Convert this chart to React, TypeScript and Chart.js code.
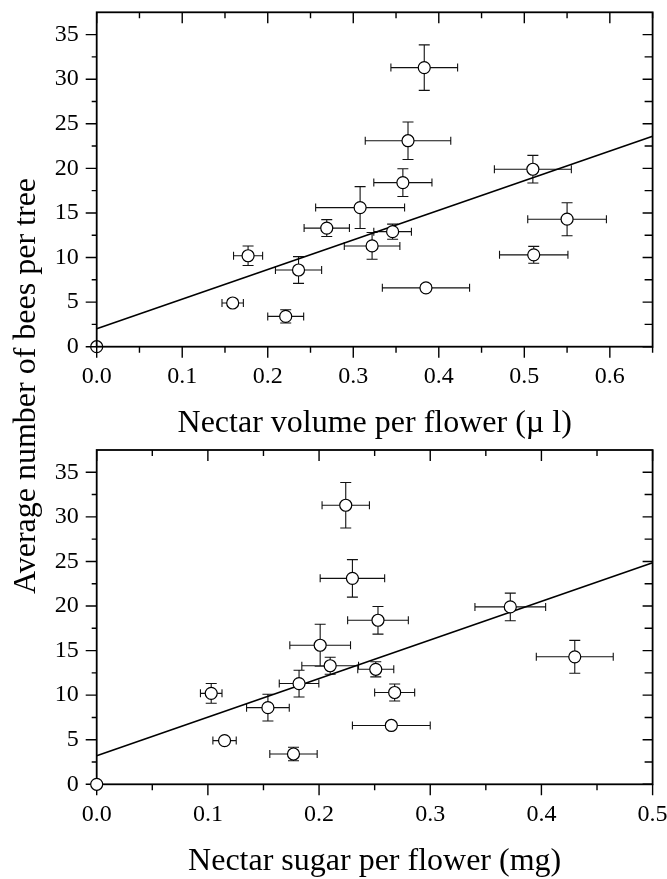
import React, { useEffect, useRef } from 'react';
import { Chart, registerables } from 'chart.js';

Chart.register(...registerables);

const FONT = '"Liberation Serif", "Times New Roman", Times, serif';

// ---- data (shared y: average number of bees per tree) ----
const bees = [0, 4.9, 10.2, 3.4, 8.6, 13.3, 15.6, 11.3, 12.9, 18.4, 23.1, 31.3, 6.6, 19.9, 10.3, 14.3];
const beesErr = [0, 0.35, 1.1, 0.75, 1.5, 0.95, 2.35, 1.5, 0.85, 1.55, 2.1, 2.55, 0.35, 1.55, 0.95, 1.85];

// top panel: nectar volume per flower (µl)
const volume = [0, 0.159, 0.177, 0.221, 0.236, 0.269, 0.308, 0.322, 0.346, 0.358, 0.364, 0.383, 0.385, 0.51, 0.511, 0.55];
const volumeErr = [0, 0.0125, 0.017, 0.021, 0.027, 0.0265, 0.052, 0.0325, 0.022, 0.034, 0.05, 0.039, 0.051, 0.045, 0.04, 0.046];

// bottom panel: nectar sugar per flower (mg)
const sugar = [0, 0.115, 0.103, 0.177, 0.154, 0.21, 0.201, 0.182, 0.251, 0.253, 0.23, 0.224, 0.265, 0.372, 0.268, 0.43];
const sugarErr = [0, 0.0105, 0.0097, 0.0213, 0.0192, 0.0255, 0.0273, 0.0178, 0.0162, 0.0273, 0.029, 0.0213, 0.035, 0.0318, 0.018, 0.0346];

// regression lines (end points)
const volumeFitX = [0, 0.65];
const volumeFitY = [2.0, 23.6];
const sugarFitX = [0, 0.5];
const sugarFitY = [3.2, 24.85];

// ticks
const volumeMajor = [0, 0.1, 0.2, 0.3, 0.4, 0.5, 0.6];
const volumeMinor = [0.05, 0.15, 0.25, 0.35, 0.45, 0.55, 0.65];
const volumeLabels = ['0.0', '0.1', '0.2', '0.3', '0.4', '0.5', '0.6'];
const sugarMajor = [0, 0.1, 0.2, 0.3, 0.4, 0.5];
const sugarMinor = [0.05, 0.15, 0.25, 0.35, 0.45];
const sugarLabels = ['0.0', '0.1', '0.2', '0.3', '0.4', '0.5'];
const beesMajor = [0, 5, 10, 15, 20, 25, 30, 35];
const beesMinor = [2.5, 7.5, 12.5, 17.5, 22.5, 27.5, 32.5];
const beesLabels = ['0', '5', '10', '15', '20', '25', '30', '35'];

const xTitleTop = 'Nectar volume per flower (\u00b5 l)';
const xTitleBottom = 'Nectar sugar per flower (mg)';
const yTitle = 'Average number of bees per tree';

type PanelCfg = {
  xs: number[];
  xErr: number[];
  fitX: number[];
  fitY: number[];
  xMax: number;
  xMajor: number[];
  xMinor: number[];
  xLabels: string[];
  xTitle: string;
  canvasTop: number;
  canvasHeight: number;
  area: { left: number; right: number; top: number; bottom: number };
  titlePadBottom: number;
  frameOnTop: boolean;
};

const W = 667;

function drawFrame(chart: any, cfg: PanelCfg) {
  const ctx = chart.ctx;
  const a = chart.chartArea;
  const xs = chart.scales.x;
  const ys = chart.scales.y;
  ctx.save();
  ctx.strokeStyle = '#000';
  ctx.lineWidth = 1.8;
  ctx.strokeRect(a.left, a.top, a.right - a.left, a.bottom - a.top);
  ctx.lineWidth = 1.4;
  ctx.beginPath();
  const xt = (vals: number[], outLen: number, inLen: number) => {
    vals.forEach((v) => {
      const p = xs.getPixelForValue(v);
      ctx.moveTo(p, a.bottom);
      ctx.lineTo(p, a.bottom + outLen);
      ctx.moveTo(p, a.top);
      ctx.lineTo(p, a.top + inLen);
    });
  };
  const yt = (vals: number[], outLen: number, inLen: number) => {
    vals.forEach((v) => {
      const p = ys.getPixelForValue(v);
      ctx.moveTo(a.left - outLen, p);
      ctx.lineTo(a.left, p);
      ctx.moveTo(a.right, p);
      ctx.lineTo(a.right - inLen, p);
    });
  };
  xt(cfg.xMajor, 11, 11);
  xt(cfg.xMinor, 6, 6);
  yt(beesMajor, 11, 10);
  yt(beesMinor, 5, 8);
  ctx.stroke();
  ctx.restore();
}

function makeDecor(cfg: PanelCfg) {
  return {
    id: 'decor',
    beforeDatasetsDraw(chart: any) {
      const ctx = chart.ctx;
      const xs = chart.scales.x;
      const ys = chart.scales.y;
      ctx.save();
      ctx.strokeStyle = '#111';
      ctx.lineWidth = 1.1;
      ctx.beginPath();
      cfg.xs.forEach((xv, i) => {
        const px = xs.getPixelForValue(xv);
        const py = ys.getPixelForValue(bees[i]);
        const ey = beesErr[i];
        if (ey > 0) {
          const y1 = ys.getPixelForValue(bees[i] + ey);
          const y2 = ys.getPixelForValue(bees[i] - ey);
          ctx.moveTo(px, y1);
          ctx.lineTo(px, y2);
          ctx.moveTo(px - 5.5, y1);
          ctx.lineTo(px + 5.5, y1);
          ctx.moveTo(px - 5.5, y2);
          ctx.lineTo(px + 5.5, y2);
        }
        const ex = cfg.xErr[i];
        if (ex > 0) {
          const x1 = xs.getPixelForValue(xv - ex);
          const x2 = xs.getPixelForValue(xv + ex);
          ctx.moveTo(x1, py);
          ctx.lineTo(x2, py);
          ctx.moveTo(x1, py - 4);
          ctx.lineTo(x1, py + 4);
          ctx.moveTo(x2, py - 4);
          ctx.lineTo(x2, py + 4);
        }
      });
      ctx.stroke();
      ctx.restore();
      if (!cfg.frameOnTop) drawFrame(chart, cfg);
    },
    afterDatasetsDraw(chart: any) {
      if (cfg.frameOnTop) drawFrame(chart, cfg);
    },
  };
}

function Panel({ cfg }: { cfg: PanelCfg }) {
  const ref = useRef<HTMLCanvasElement | null>(null);
  useEffect(() => {
    const canvas = ref.current;
    if (!canvas) return;
    const a = cfg.area;
    const tickFont = { family: FONT, size: 24, lineHeight: 1.2 };
    const chart = new Chart(canvas, {
      type: 'scatter',
      data: {
        datasets: [
          {
            type: 'line',
            data: cfg.fitX.map((x, i) => ({ x, y: cfg.fitY[i] })),
            borderColor: '#000',
            borderWidth: 1.6,
            pointRadius: 0,
            fill: false,
            order: 2,
          } as any,
          {
            type: 'scatter',
            data: cfg.xs.map((x, i) => ({ x, y: bees[i] })),
            pointRadius: 6,
            pointHoverRadius: 6,
            pointBackgroundColor: '#fff',
            pointBorderColor: '#000',
            pointBorderWidth: 1.2,
            clip: false,
            order: 1,
          } as any,
        ],
      },
      options: {
        animation: false,
        responsive: false,
        maintainAspectRatio: false,
        events: [],
        layout: { padding: { left: 0, right: W - a.right, top: a.top, bottom: 0 } },
        plugins: { legend: { display: false }, tooltip: { enabled: false } },
        scales: {
          x: {
            type: 'linear',
            position: 'bottom',
            min: 0,
            max: cfg.xMax,
            afterBuildTicks: (s: any) => {
              s.ticks = cfg.xMajor.map((v) => ({ value: v }));
            },
            ticks: {
              callback: (_v: any, i: number) => cfg.xLabels[i],
              padding: 16,
              font: tickFont,
              color: '#000',
              maxRotation: 0,
              autoSkip: false,
            },
            grid: { display: false, drawTicks: false },
            border: { display: false },
            title: {
              display: true,
              text: cfg.xTitle,
              color: '#000',
              font: { family: FONT, size: 32, lineHeight: 1 },
              padding: { top: 0, bottom: cfg.titlePadBottom },
            },
            afterFit: (s: any) => {
              s.height = cfg.canvasHeight - a.bottom;
              s.paddingLeft = 0;
              s.paddingRight = 0;
            },
          },
          y: {
            type: 'linear',
            position: 'left',
            min: 0,
            max: 37.5,
            afterBuildTicks: (s: any) => {
              s.ticks = beesMajor.map((v) => ({ value: v }));
            },
            ticks: {
              callback: (_v: any, i: number) => beesLabels[i],
              padding: 18,
              font: tickFont,
              color: '#000',
              autoSkip: false,
            },
            grid: { display: false, drawTicks: false },
            border: { display: false },
            afterFit: (s: any) => {
              s.width = a.left;
              s.paddingTop = 0;
              s.paddingBottom = 0;
            },
          },
        },
      } as any,
      plugins: [makeDecor(cfg)],
    });
    return () => chart.destroy();
  }, [cfg]);
  return (
    <canvas
      ref={ref}
      width={W}
      height={cfg.canvasHeight}
      style={{ position: 'absolute', left: 0, top: cfg.canvasTop, width: W, height: cfg.canvasHeight, display: 'block' }}
    />
  );
}

const topCfg: PanelCfg = {
  xs: volume,
  xErr: volumeErr,
  fitX: volumeFitX,
  fitY: volumeFitY,
  xMax: 0.65,
  xMajor: volumeMajor,
  xMinor: volumeMinor,
  xLabels: volumeLabels,
  xTitle: xTitleTop,
  canvasTop: 0,
  canvasHeight: 440,
  area: { left: 96.7, right: 652.6, top: 12.3, bottom: 346.7 },
  titlePadBottom: 0,
  frameOnTop: true,
};

const bottomCfg: PanelCfg = {
  xs: sugar,
  xErr: sugarErr,
  fitX: sugarFitX,
  fitY: sugarFitY,
  xMax: 0.5,
  xMajor: sugarMajor,
  xMinor: sugarMinor,
  xLabels: sugarLabels,
  xTitle: xTitleBottom,
  canvasTop: 440,
  canvasHeight: 439,
  area: { left: 96.7, right: 652.6, top: 10, bottom: 344.3 },
  titlePadBottom: 1.5,
  frameOnTop: false,
};

export default function App() {
  return (
    <div style={{ position: 'absolute', left: 0, top: 0, width: W, height: 879, background: '#fff', overflow: 'hidden' }}>
      <Panel cfg={topCfg} />
      <Panel cfg={bottomCfg} />
      <div
        style={{
          position: 'absolute',
          left: 24 - 300,
          top: 386 - 16,
          width: 600,
          height: 32,
          lineHeight: '32px',
          fontSize: 32,
          fontFamily: FONT,
          color: '#000',
          textAlign: 'center',
          whiteSpace: 'nowrap',
          transform: 'rotate(-90deg)',
          transformOrigin: '50% 50%',
        }}
      >
        {yTitle}
      </div>
    </div>
  );
}
